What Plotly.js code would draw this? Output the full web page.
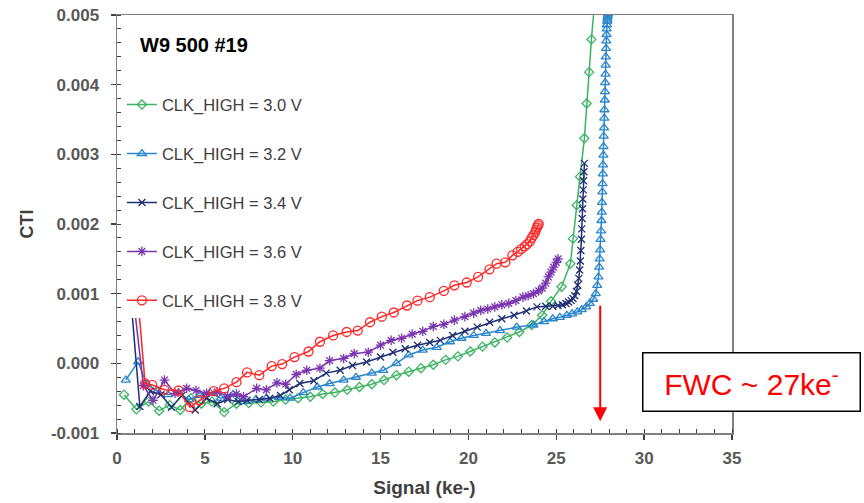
<!DOCTYPE html>
<html>
<head>
<meta charset="utf-8">
<script src="https://cdn.plot.ly/plotly-3.0.1.min.js"></script>
<style>html,body{margin:0;padding:0;background:#fff;}#chart{width:864px;height:503px;}</style>
</head>
<body>
<div id="chart"></div>
<script>
const seriesNames = ["CLK_HIGH = 3.0 V","CLK_HIGH = 3.2 V","CLK_HIGH = 3.4 V","CLK_HIGH = 3.6 V","CLK_HIGH = 3.8 V"];

const x30 = [0.4,1.1,1.8,2.4,3.0,3.6,4.2,4.8,5.4,6.1,6.8,7.5,8.2,8.9,9.6,10.3,11.0,11.7,12.4,13.1,13.8,14.5,15.2,15.9,16.6,17.3,18.0,18.7,19.4,20.1,20.8,21.5,22.2,22.9,23.6,24.2,24.7,25.3,25.8,25.95,26.16,26.35,26.6,26.73,26.87,27.0,27.15];
const y30 = [-0.00045,-0.00066,-0.00055,-0.00068,-0.00060,-0.00067,-0.00050,-0.00058,-0.00055,-0.00070,-0.00058,-0.00057,-0.00056,-0.00055,-0.00052,-0.00050,-0.00048,-0.00044,-0.00042,-0.00038,-0.00034,-0.00030,-0.00024,-0.00017,-0.00012,-0.00007,-0.00002,0.00005,0.00010,0.00017,0.00024,0.00030,0.00037,0.00045,0.00055,0.00069,0.00089,0.00110,0.00143,0.00179,0.00227,0.00268,0.00323,0.00373,0.00418,0.00465,0.00510];

const x32 = [0.5,1.2,1.7,2.3,2.9,3.5,4.1,4.7,5.3,5.9,6.6,7.2,7.9,8.5,9.2,9.85,10.6,11.4,12.1,12.9,13.6,14.5,15.15,15.9,16.6,17.4,18.2,18.95,19.6,20.3,21.0,21.8,22.75,23.7,24.3,24.8,25.2,25.6,25.9,26.2,26.45,26.7,26.9,27.1,27.25,27.33,27.4,27.44,27.47,27.5,27.52,27.55,27.57,27.59,27.6,27.62,27.63,27.65,27.66,27.68,27.69,27.7,27.72,27.73,27.74,27.76,27.77,27.78,27.8,27.81,27.82,27.83,27.85,27.86,27.87,27.88,27.9,27.91,27.92,27.93,27.95];
const y32 = [-0.00024,0.00002,-0.00030,-0.00040,-0.00045,-0.00042,-0.00052,-0.00046,-0.00042,-0.00050,-0.00045,-0.00055,-0.00052,-0.00050,-0.00049,-0.00050,-0.00042,-0.00034,-0.00029,-0.00024,-0.00020,-0.00014,-0.00010,0.00000,0.00012,0.00019,0.00023,0.00031,0.00036,0.00040,0.00043,0.00047,0.00052,0.00055,0.00060,0.00064,0.00066,0.00069,0.00071,0.00074,0.00077,0.00081,0.00086,0.00092,0.00100,0.00112,0.00124,0.00138,0.00150,0.00163,0.00178,0.00190,0.00205,0.00217,0.00231,0.00246,0.00258,0.00272,0.00285,0.00299,0.00311,0.00326,0.00338,0.00352,0.00364,0.00378,0.00390,0.00403,0.00415,0.00428,0.00440,0.00452,0.00463,0.00472,0.00480,0.00486,0.00491,0.00494,0.00497,0.00499,0.00502];

const x34 = [0.8,1.3,1.9,2.5,3.1,3.7,4.45,5.1,5.7,6.3,6.9,7.4,8.1,8.7,9.3,9.8,10.4,11.2,11.9,12.7,13.4,14.2,15.0,15.7,16.4,17.1,17.8,18.4,19.1,19.8,20.5,21.2,21.9,22.6,23.3,23.9,24.4,24.8,25.1,25.35,25.55,25.7,25.85,25.95,26.05,26.15,26.22,26.28,26.33,26.37,26.4,26.43,26.45,26.47,26.49,26.51,26.53,26.55,26.57,26.6];
const y34 = [0.00090,-0.00062,-0.00040,-0.00045,-0.00063,-0.00046,-0.00067,-0.00050,-0.00058,-0.00052,-0.00055,-0.00053,-0.00052,-0.00050,-0.00046,-0.00038,-0.00029,-0.00025,-0.00014,-0.00010,-0.00003,0.00002,0.00009,0.00016,0.00021,0.00026,0.00030,0.00033,0.00040,0.00046,0.00052,0.00059,0.00064,0.00069,0.00075,0.00081,0.00082,0.00082,0.00083,0.00084,0.00086,0.00088,0.00090,0.00093,0.00097,0.00103,0.00112,0.00122,0.00134,0.00147,0.00162,0.00178,0.00193,0.00208,0.00222,0.00236,0.00249,0.00262,0.00275,0.00287];

const x36 = [0.95,1.5,2.05,2.7,3.3,3.97,4.5,5.1,5.7,6.3,6.8,7.2,7.95,8.5,9.1,9.6,10.2,10.8,11.55,12.1,12.9,13.5,14.3,15.0,15.6,16.2,16.8,17.4,18.0,18.6,19.2,19.8,20.3,20.7,21.1,21.5,21.9,22.3,22.7,23.1,23.4,23.7,24.0,24.2,24.4,24.55,24.7,24.85,25.0,25.1];
const y36 = [0.00090,-0.00032,-0.00053,-0.00024,-0.00043,-0.00036,-0.00039,-0.00043,-0.00041,-0.00047,-0.00044,-0.00048,-0.00036,-0.00038,-0.00028,-0.00030,-0.00016,-0.00010,-0.00007,0.00004,0.00007,0.00014,0.00016,0.00026,0.00033,0.00036,0.00042,0.00046,0.00053,0.00056,0.00062,0.00067,0.00072,0.00076,0.00078,0.00081,0.00084,0.00086,0.00090,0.00095,0.00097,0.00100,0.00104,0.00108,0.00115,0.00124,0.00131,0.00138,0.00145,0.00150];

const x38 = [1.2,1.6,2.0,2.7,3.5,4.15,4.7,5.5,6.1,6.8,7.4,8.1,8.8,9.4,10.1,10.9,11.55,12.3,13.07,13.7,14.4,15.07,15.75,16.5,17.1,17.8,18.6,19.2,19.9,20.55,21.2,21.6,22.1,22.5,22.8,23.0,23.2,23.35,23.5,23.6,23.7,23.8,23.85,23.9,23.95,24.0];
const y38 = [0.00090,-0.00029,-0.00031,-0.00038,-0.00039,-0.00063,-0.00053,-0.00040,-0.00036,-0.00027,-0.00013,-0.00017,-0.00004,-0.00001,0.00009,0.00017,0.00031,0.00040,0.00045,0.00047,0.00059,0.00067,0.00073,0.00083,0.00090,0.00095,0.00104,0.00112,0.00116,0.00124,0.00135,0.00143,0.00145,0.00155,0.00160,0.00164,0.00168,0.00171,0.00175,0.00180,0.00184,0.00188,0.00192,0.00195,0.00198,0.00200];

const xTickVals = [0,5,10,15,20,25,30,35];
const yTickVals = [-0.001,0.000,0.001,0.002,0.003,0.004,0.005];
const yTickText = ["-0.001","0.000","0.001","0.002","0.003","0.004","0.005"];

const colors = ["#3cb464","#2a86cc","#1f2f72","#7a34b0","#ff2626"];
const symbols = ["diamond-open","triangle-up-open","x-thin-open","asterisk-open","circle-open"];
const sizes = [7,8,7,8,9];
const xs = [x30,x32,x34,x36,x38];
const ys = [y30,y32,y34,y36,y38];

const traces = seriesNames.map((n,i)=>({
  type:'scatter', mode:'lines+markers', name:n, x:xs[i], y:ys[i],
  legendgroup:'g'+i,
  line:{color:colors[i], width:1.5},
  marker:{symbol:symbols[i], size:sizes[i], color:colors[i], line:{color:colors[i], width:1.3}}
}));

const FONT = "Liberation Sans, Arial, sans-serif";
const axisCol = "#808080";

const layout = {
  width:864, height:503,
  margin:{l:117, r:132, t:15, b:70},
  paper_bgcolor:'#fff', plot_bgcolor:'#fff',
  showlegend:true,
  legend:{x:0.008, xanchor:'left', y:0.827, yanchor:'top', bgcolor:'#ffffff',
          font:{family:FONT, size:16.5, color:'#404040'}, tracegroupgap:24.5, traceorder:'grouped'},
  xaxis:{range:[0,35], tickvals:xTickVals, ticks:'outside', ticklen:5, tickwidth:1.3, tickcolor:'#404040',
         showline:true, linecolor:axisCol, linewidth:1.5, mirror:true, showgrid:false, zeroline:false,
         tickfont:{family:FONT, size:17, color:'#595959', weight:'bold'}, ticklabelstandoff:4,
         minor:{dtick:1, ticks:'inside', ticklen:4, tickcolor:'#404040', tickwidth:1, showgrid:false},
         title:{text:'Signal (ke-)', font:{family:FONT, size:19, color:'#404040', weight:'bold'}, standoff:14}},
  yaxis:{range:[-0.001,0.005], tickvals:yTickVals, ticktext:yTickText, ticks:'outside', ticklen:5, tickwidth:1.3, tickcolor:'#404040',
         showline:true, linecolor:axisCol, linewidth:1.5, mirror:true, showgrid:false, zeroline:false,
         tickfont:{family:FONT, size:17, color:'#595959', weight:'bold'}, ticklabelstandoff:8,
         minor:{dtick:0.0002, ticks:'inside', ticklen:4, tickcolor:'#404040', tickwidth:1, showgrid:false},
         title:{text:'CTI', font:{family:FONT, size:18, color:'#404040', weight:'bold'}, standoff:12}},
  xaxis2:{overlaying:'x', anchor:'y', side:'bottom', range:[0,35], tickvals:xTickVals, ticks:'inside', ticklen:5, tickwidth:1.3, tickcolor:'#404040',
          showticklabels:false, showline:false, showgrid:false, zeroline:false},
  yaxis2:{overlaying:'y', anchor:'x', side:'left', range:[-0.001,0.005], tickvals:yTickVals, ticks:'inside', ticklen:5, tickwidth:1.3, tickcolor:'#404040',
          showticklabels:false, showline:false, showgrid:false, zeroline:false},
  annotations:[
    {xref:'paper', yref:'paper', x:0.125, y:0.928, xanchor:'center', yanchor:'middle', showarrow:false,
     text:'W9 500 #19', font:{family:FONT, size:20, color:'#000000', weight:'bold'}},
    {xref:'x', yref:'y', axref:'x', ayref:'y', x:27.5, y:-0.00083, ax:27.5, ay:0.00097, text:' ',
     showarrow:true, arrowhead:2, arrowsize:1.4, arrowwidth:2, arrowcolor:'#ff0000'},
    {xref:'paper', yref:'paper', x:1.0325, y:0.122, xanchor:'center', yanchor:'middle', showarrow:false,
     text:'FWC ~ 27ke<sup>-</sup>', font:{family:FONT, size:30, color:'#ff0000'},
     bgcolor:'#ffffff', bordercolor:'#000000', borderwidth:1.5, borderpad:1, width:214, height:55}
  ]
};

Plotly.newPlot('chart', traces, layout, {displayModeBar:false, staticPlot:true});
</script>
</body>
</html>
